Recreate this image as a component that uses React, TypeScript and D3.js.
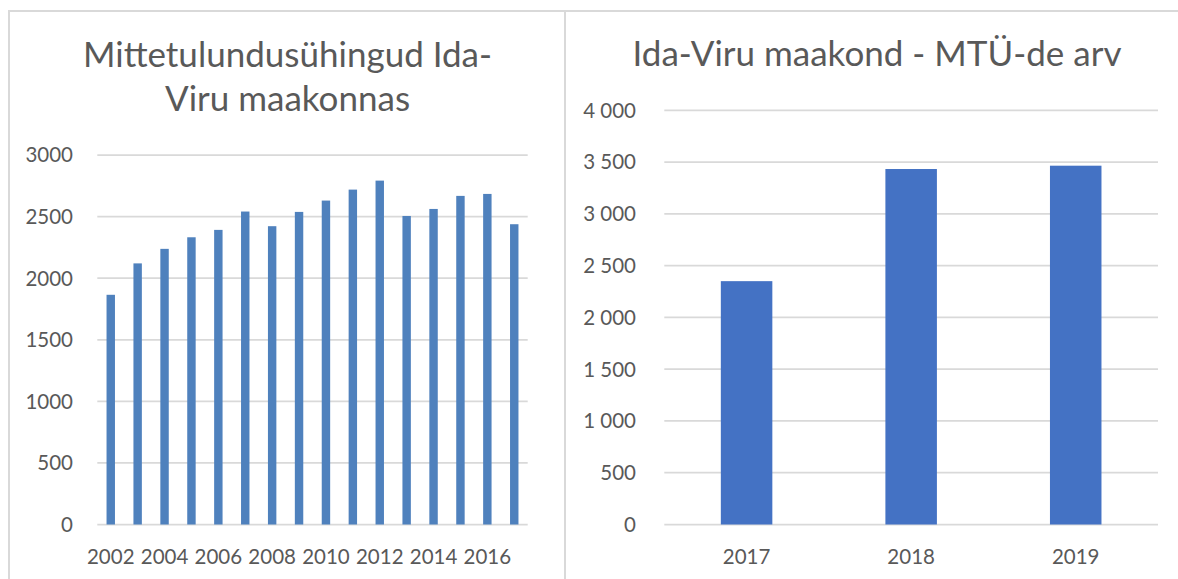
import React from "react";
import * as d3 from "d3";

const leftYears = ["2002","2003","2004","2005","2006","2007","2008","2009","2010","2011","2012","2013","2014","2015","2016","2017"];
const leftValues = [1865, 2120, 2238, 2332, 2392, 2541, 2422, 2538, 2630, 2719, 2792, 2505, 2562, 2668, 2684, 2438];
const leftTicks = [0, 500, 1000, 1500, 2000, 2500, 3000];
const leftTitle = ["Mittetulundusühingud Ida-", "Viru maakonnas"];

const rightYears = ["2017", "2018", "2019"];
const rightValues = [2350, 3433, 3465];
const rightTicks = [0, 500, 1000, 1500, 2000, 2500, 3000, 3500, 4000];
const rightTitle = "Ida-Viru maakond - MTÜ-de arv";

const TEXT = "#595959";
const GRID = "#D9D9D9";
const FONT = "Lato, 'Open Sans', sans-serif";

const fmtSpace = (v: number) => d3.format(",")(v).replace(/,/g, "\u00A0");

function LeftChart() {
  const x = d3.scaleBand<string>().domain(leftYears).range([97.3, 527.7]).paddingInner(0.687).paddingOuter(0.3435);
  const y = d3.scaleLinear().domain([0, 3000]).range([524.5, 155]);
  return (
    <g>
      <rect x={9} y={11} width={556} height={580} fill="#fff" stroke={GRID} strokeWidth={2} />
      {leftTitle.map((t, i) => (
        <text key={t} x={287.5} y={67 + i * 44} textAnchor="middle" fontSize={35} fontWeight={400} fill={TEXT} fontFamily={FONT}>{t}</text>
      ))}
      {leftTicks.map((t) => (
        <g key={t}>
          <line x1={97.3} x2={527.7} y1={y(t)} y2={y(t)} stroke={GRID} strokeWidth={1.75} />
          <text x={73} y={y(t)} dy="0.36em" textAnchor="end" fontSize={20.5} fill={TEXT} fontFamily={FONT}>{t}</text>
        </g>
      ))}
      {leftYears.map((yr, i) => (
        <rect key={yr} x={x(yr)} y={y(leftValues[i])} width={x.bandwidth()} height={y(0) - y(leftValues[i])} fill="#4F81BD" />
      ))}
      {leftYears.filter((_, i) => i % 2 === 0).map((yr) => (
        <text key={yr} x={(x(yr) as number) + x.bandwidth() / 2} y={564} textAnchor="middle" fontSize={20.5} fill={TEXT} fontFamily={FONT}>{yr}</text>
      ))}
    </g>
  );
}

function RightChart() {
  const x = d3.scaleBand<string>().domain(rightYears).range([664.3, 1158]).paddingInner(0.687).paddingOuter(0.3435);
  const y = d3.scaleLinear().domain([0, 4000]).range([524.5, 110.3]);
  return (
    <g>
      <rect x={565} y={11} width={640} height={580} fill="#fff" stroke={GRID} strokeWidth={2} />
      <text x={877} y={66} textAnchor="middle" fontSize={35} fontWeight={400} fill={TEXT} fontFamily={FONT}>{rightTitle}</text>
      {rightTicks.map((t) => (
        <g key={t}>
          <line x1={664.3} x2={1158} y1={y(t)} y2={y(t)} stroke={GRID} strokeWidth={1.75} />
          <text x={636} y={y(t)} dy="0.36em" textAnchor="end" fontSize={20.5} fill={TEXT} fontFamily={FONT}>{fmtSpace(t)}</text>
        </g>
      ))}
      {rightYears.map((yr, i) => (
        <rect key={yr} x={x(yr)} y={y(rightValues[i])} width={x.bandwidth()} height={y(0) - y(rightValues[i])} fill="#4472C4" />
      ))}
      {rightYears.map((yr) => (
        <text key={yr} x={(x(yr) as number) + x.bandwidth() / 2} y={564} textAnchor="middle" fontSize={20.5} fill={TEXT} fontFamily={FONT}>{yr}</text>
      ))}
    </g>
  );
}

export default function App() {
  return (
    <svg width={1178} height={579} style={{ position: "absolute", left: 0, top: 0, background: "#fff" }}>
      <rect x={0} y={0} width={1178} height={579} fill="#fff" />
      <LeftChart />
      <RightChart />
    </svg>
  );
}
